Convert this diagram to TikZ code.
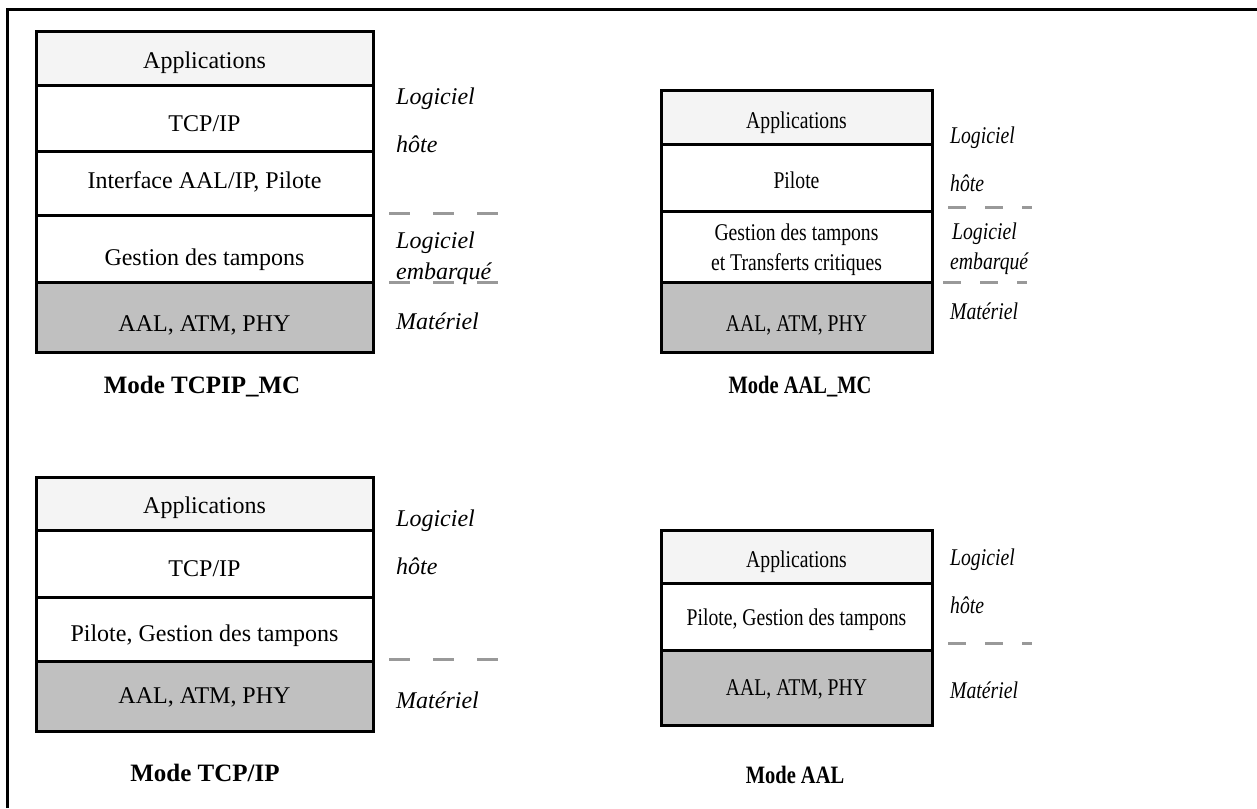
\documentclass[tikz,border=0pt]{standalone}
\usepackage{fontspec}
\usepackage{graphicx}
\setmainfont{Liberation Serif}
\newfontfamily\condfont[FakeStretch=0.82]{Liberation Serif}
\newcommand{\lay}[2]{\raisebox{-#1pt}[0pt][0pt]{#2}}
\definecolor{appfill}{HTML}{F4F4F4}
\definecolor{hwfill}{HTML}{C0C0C0}
\definecolor{sepgray}{HTML}{999999}
\begin{document}
\begin{tikzpicture}[x=1pt,y=-1pt,
  layer/.style={draw=black, line width=3pt, fill=white, inner sep=0pt,
    font=\fontsize{24}{30}\selectfont, align=center},
  applayer/.style={layer, fill=appfill},
  hwlayer/.style={layer, fill=hwfill},
  widebox/.style={minimum width=337pt},
  narrowbox/.style={minimum width=271pt, font=\condfont\fontsize{24}{30}\selectfont},
  side/.style={anchor=west, inner sep=0pt, font=\fontsize{24}{28}\selectfont\itshape,
    text height=17pt, text depth=5pt},
  sidecond/.style={side, font=\condfont\fontsize{24}{28}\selectfont\itshape},
  caption/.style={font=\fontsize{25}{30}\selectfont\bfseries, inner sep=0pt},
  captioncond/.style={caption, font=\condfont\fontsize{25}{30}\selectfont\bfseries},
  sepA/.style={draw=sepgray, line width=3pt, dash pattern=on 21pt off 23pt},
  sepB/.style={draw=sepgray, line width=3pt, dash pattern=on 18pt off 19pt},
  frameline/.style={line width=3pt}]
\useasboundingbox (0,0) rectangle (1257,808);

% frame (top and left edges only)
\coordinate (fBL) at (7,808);
\coordinate (fTL) at (7,10);
\coordinate (fTR) at (1257,10);
\draw[frameline] (fBL) -- (fTL) -- (fTR);

% ---------- Stack 1: Mode TCPIP_MC ----------
\node[applayer, widebox, minimum height=53pt] (s1a) at (204.5,58.5) {\lay{9.5}{Applications}};
\node[layer, widebox, minimum height=66pt] (s1b) at (204.5,118) {\lay{13}{TCP/IP}};
\node[layer, widebox, minimum height=64pt] (s1c) at (204.5,183) {\lay{5}{Interface AAL/IP, Pilote}};
\node[layer, widebox, minimum height=67pt] (s1d) at (204.5,248.5) {\lay{16.5}{Gestion des tampons}};
\node[hwlayer, widebox, minimum height=70pt] (s1e) at (204.5,317) {\lay{14}{AAL, ATM, PHY}};
\node[side] (s1l1) at (396,98) {Logiciel};
\node[side] (s1l2) at (396,146) {hôte};
\node[side] (s1l3) at (396,242) {Logiciel};
\node[side] (s1l4) at (396,273) {embarqué};
\node[side] (s1l5) at (396,323) {Matériel};
\coordinate (s1d1a) at (389,213); \coordinate (s1d1b) at (498,213);
\coordinate (s1d2a) at (389,282); \coordinate (s1d2b) at (498,282);
\draw[sepA] (s1d1a) -- (s1d1b);
\draw[sepA] (s1d2a) -- (s1d2b);
\node[caption] (s1cap) at (202,387) {Mode TCPIP\_MC};

% ---------- Stack 2: Mode AAL_MC ----------
\node[applayer, narrowbox, minimum height=54pt] (s2a) at (796.5,117) {\lay{11}{Applications}};
\node[layer, narrowbox, minimum height=67pt] (s2b) at (796.5,177.5) {\lay{10.5}{Pilote}};
\node[layer, narrowbox, minimum height=71pt] (s2c) at (796.5,246.5)
  {\lay{9.5}{\begin{tabular}{@{}c@{}}Gestion des tampons\\et Transferts critiques\end{tabular}}};
\node[hwlayer, narrowbox, minimum height=70pt] (s2d) at (796.5,317) {\lay{14}{AAL, ATM, PHY}};
\node[sidecond] (s2l1) at (950,137) {Logiciel};
\node[sidecond] (s2l2) at (950,185) {hôte};
\node[sidecond] (s2l3) at (952,233) {Logiciel};
\node[sidecond] (s2l4) at (950,263) {embarqué};
\node[sidecond] (s2l5) at (950,313) {Matériel};
\coordinate (s2d1a) at (948,207); \coordinate (s2d1b) at (1032,207);
\coordinate (s2d2a) at (943,282); \coordinate (s2d2b) at (1027,282);
\draw[sepB] (s2d1a) -- (s2d1b);
\draw[sepB] (s2d2a) -- (s2d2b);
\node[captioncond] (s2cap) at (800,387) {Mode AAL\_MC};

% ---------- Stack 3: Mode TCP/IP ----------
\node[applayer, widebox, minimum height=53pt] (s3a) at (204.5,503.5) {\lay{9.5}{Applications}};
\node[layer, widebox, minimum height=67pt] (s3b) at (204.5,563.5) {\lay{12.5}{TCP/IP}};
\node[layer, widebox, minimum height=64pt] (s3c) at (204.5,629) {\lay{12}{Pilote, Gestion des tampons}};
\node[hwlayer, widebox, minimum height=70pt] (s3d) at (204.5,696) {\lay{7}{AAL, ATM, PHY}};
\node[side] (s3l1) at (396,520) {Logiciel};
\node[side] (s3l2) at (396,568) {hôte};
\node[side] (s3l3) at (396,702) {Matériel};
\coordinate (s3d1a) at (389,659); \coordinate (s3d1b) at (498,659);
\draw[sepA] (s3d1a) -- (s3d1b);
\node[caption] (s3cap) at (205,773) {Mode TCP/IP};

% ---------- Stack 4: Mode AAL ----------
\node[applayer, narrowbox, minimum height=53pt] (s4a) at (796.5,556.5) {\lay{10.5}{Applications}};
\node[layer, narrowbox, minimum height=67pt] (s4b) at (796.5,616.5) {\lay{8.5}{Pilote, Gestion des tampons}};
\node[hwlayer, narrowbox, minimum height=75pt] (s4c) at (796.5,687.5) {\lay{7.5}{AAL, ATM, PHY}};
\node[sidecond] (s4l1) at (950,559) {Logiciel};
\node[sidecond] (s4l2) at (950,607) {hôte};
\node[sidecond] (s4l3) at (950,692) {Matériel};
\coordinate (s4d1a) at (948,643); \coordinate (s4d1b) at (1032,643);
\draw[sepB] (s4d1a) -- (s4d1b);
\node[captioncond] (s4cap) at (795,775) {Mode AAL};
\end{tikzpicture}
\end{document}
